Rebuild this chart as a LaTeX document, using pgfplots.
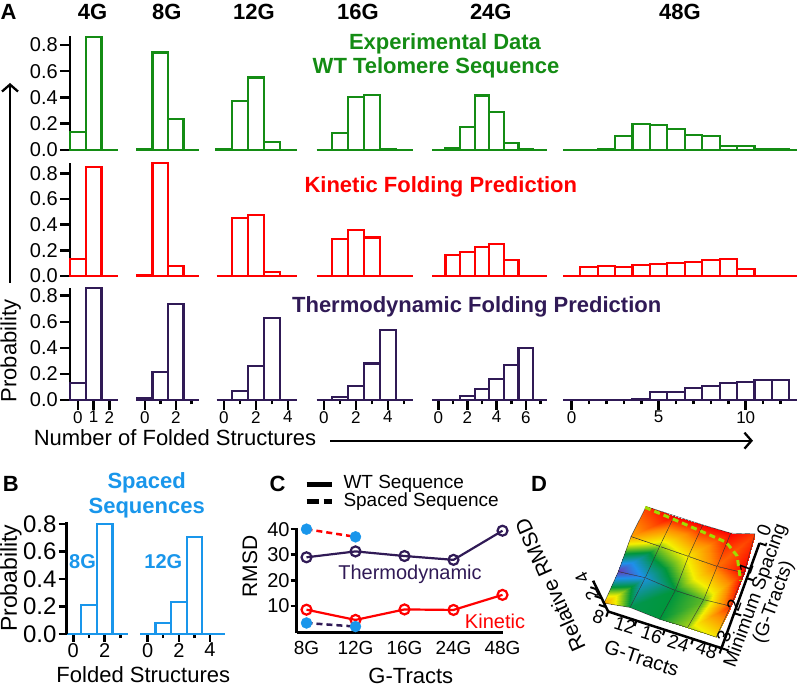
\documentclass[border=0pt]{standalone}
\usepackage{pgfplots}
\pgfplotsset{compat=1.18}
\usepackage{fontspec}
\setmainfont{Liberation Sans}
\usetikzlibrary{arrows.meta}
\definecolor{cg}{RGB}{20,140,20}
\definecolor{cr}{RGB}{255,0,0}
\definecolor{cp}{RGB}{48,26,86}
\definecolor{cb}{RGB}{25,150,235}
\definecolor{cy}{RGB}{160,220,0}
\newcommand\fs[1]{\fontsize{#1}{#1}\selectfont}
\pgfplotsset{
  hb/.style={scale only axis, clip=false, anchor=south west, ymin=0, ybar, bar width=1,
    axis x line*=bottom, xtick=\empty,
    x axis line style={line width=2.8pt,-}, tick align=outside,
    major tick length=10pt, minor tick length=4.5pt,
    tick style={black, line width=2.5pt},
    xticklabel style={font=\fs{17}, inner sep=1pt}},
  noy/.style={axis y line=none, ytick=\empty},
  yax/.style={axis y line*=left, y axis line style={black, line width=2.5pt,-},
    ytick={0,0.2,0.4,0.6,0.8}, yticklabels={0.0,0.2,0.4,0.6,0.8},
    yticklabel style={font=\fs{20}, inner sep=2pt}},
  c1/.style={xmin=-0.5, xmax=2.55, width=48pt, yax},
  c2/.style={xmin=-0.5, xmax=3.5, width=62pt, noy},
  c3/.style={xmin=-0.45, xmax=4.55, width=80pt, noy},
  c4/.style={xmin=-0.45, xmax=5.57, width=96.3pt, noy},
  c5/.style={xmin=-0.43, xmax=7.45, width=115pt, noy},
  c6/.style={xmin=-0.48, xmax=12.93, width=233.4pt, noy},
  r1/.style={ymax=0.87, height=114.2pt, x axis line style={draw=cg}},
  r2/.style={ymax=0.88, height=112.9pt, x axis line style={draw=cr}},
  r3/.style={ymax=0.86, height=112.1pt, x axis line style={draw=cp}},
  bg/.style={draw=cg, fill=white, line width=2.2pt},
  br/.style={draw=cr, fill=white, line width=2.2pt},
  bp/.style={draw=cp, fill=white, line width=2.2pt},
  bb/.style={draw=cb, fill=white, line width=2.2pt},
}
\begin{document}
\begin{tikzpicture}[x=1pt,y=1pt]
\useasboundingbox (0,0) rectangle (800,687);
% ---------------- Panel A, row 1: experimental
\begin{axis}[hb,c1,r1,at={(70pt,537pt)}]
\addplot[bg] coordinates {(0,0.137) (1,0.86)};
\end{axis}
\begin{axis}[hb,c2,r1,at={(137pt,537pt)}]
\addplot[bg] coordinates {(0,0.003) (1,0.743) (2,0.237)};
\end{axis}
\begin{axis}[hb,c3,r1,at={(216.7pt,537pt)}]
\addplot[bg] coordinates {(0,0.003) (1,0.374) (2,0.552) (3,0.063)};
\end{axis}
\begin{axis}[hb,c4,r1,at={(316.7pt,537pt)}]
\addplot[bg] coordinates {(1,0.127) (2,0.405) (3,0.42) (4,0.01)};
\end{axis}
\begin{axis}[hb,c5,r1,at={(432pt,537pt)}]
\addplot[bg] coordinates {(1,0.018) (2,0.178) (3,0.415) (4,0.288) (5,0.051) (6,0.005)};
\end{axis}
\begin{axis}[hb,c6,r1,at={(563.3pt,537pt)}]
\addplot[bg] coordinates {(2,0.005) (3,0.107) (4,0.198) (5,0.19) (6,0.158) (7,0.112) (8,0.107) (9,0.033) (10,0.033) (11,0.003) (12,0.003)};
\end{axis}
% ---------------- row 2: kinetic
\begin{axis}[hb,c1,r2,at={(70pt,411pt)}]
\addplot[br] coordinates {(0,0.13) (1,0.847)};
\end{axis}
\begin{axis}[hb,c2,r2,at={(137pt,411pt)}]
\addplot[br] coordinates {(0,0.01) (1,0.878) (2,0.078)};
\end{axis}
\begin{axis}[hb,c3,r2,at={(216.7pt,411pt)}]
\addplot[br] coordinates {(1,0.45) (2,0.473) (3,0.034)};
\end{axis}
\begin{axis}[hb,c4,r2,at={(316.7pt,411pt)}]
\addplot[br] coordinates {(1,0.288) (2,0.358) (3,0.30)};
\end{axis}
\begin{axis}[hb,c5,r2,at={(432pt,411pt)}]
\addplot[br] coordinates {(1,0.164) (2,0.19) (3,0.228) (4,0.25) (5,0.125)};
\end{axis}
\begin{axis}[hb,c6,r2,at={(563.3pt,411pt)}]
\addplot[br] coordinates {(1,0.068) (2,0.078) (3,0.073) (4,0.083) (5,0.091) (6,0.099) (7,0.109) (8,0.125) (9,0.132) (10,0.057)};
\end{axis}
% ---------------- row 3: thermodynamic
\begin{axis}[hb,c1,r3,at={(70pt,287pt)}, xtick={0,1,2}, xticklabels={0,1,2}]
\addplot[bp] coordinates {(0,0.128) (1,0.857)};
\end{axis}
\begin{axis}[hb,c2,r3,at={(137pt,287pt)}, xtick={0,2}, xticklabels={0,2}, minor xtick={1,3}]
\addplot[bp] coordinates {(0,0.015) (1,0.217) (2,0.734)};
\end{axis}
\begin{axis}[hb,c3,r3,at={(216.7pt,287pt)}, xtick={0,2,4}, xticklabels={0,2,4}, minor xtick={1,3}]
\addplot[bp] coordinates {(1,0.069) (2,0.26) (3,0.63)};
\end{axis}
\begin{axis}[hb,c4,r3,at={(316.7pt,287pt)}, xtick={0,2,4}, xticklabels={0,2,4}, minor xtick={1,3,5}]
\addplot[bp] coordinates {(1,0.025) (2,0.107) (3,0.28) (4,0.54)};
\end{axis}
\begin{axis}[hb,c5,r3,at={(432pt,287pt)}, xtick={0,2,4,6}, xticklabels={0,2,4,6}, minor xtick={1,3,5,7}]
\addplot[bp] coordinates {(2,0.03) (3,0.084) (4,0.164) (5,0.27) (6,0.40)};
\end{axis}
\begin{axis}[hb,c6,r3,at={(563.3pt,287pt)}, xtick={0,5,10}, xticklabels={0,5,10}, minor xtick={1,2,3,4,6,7,8,9,11,12}]
\addplot[bp] coordinates {(4,0.007) (5,0.059) (6,0.064) (7,0.09) (8,0.107) (9,0.128) (10,0.14) (11,0.153) (12,0.153)};
\end{axis}
% Panel A texts
\node[font=\bfseries\fs{22}, anchor=base] at (8.5,667) {A};
\foreach \x/\t in {92.5/4G,166.7/8G,254/12G,358/16G,490.8/24G,680/48G}
  \node[font=\bfseries\fs{22}, anchor=base] at (\x,667) {\t};
\node[font=\bfseries\fs{22}, text=cg, anchor=base] at (445,637.7) {Experimental Data};
\node[font=\bfseries\fs{22}, text=cg, anchor=base] at (436,613) {WT Telomere Sequence};
\node[font=\bfseries\fs{22}, text=cr, anchor=base] at (440.8,494.3) {Kinetic Folding Prediction};
\node[font=\bfseries\fs{22}, text=cp, anchor=base] at (476.7,374.7) {Thermodynamic Folding Prediction};
\draw[line width=2.3pt, -{Straight Barb[length=7pt,width=16pt,line width=2.3pt]}] (10,404) -- (10,604);
\node[font=\fs{22}, rotate=90, anchor=base] at (16.5,336) {Probability};
\node[font=\fs{22}, anchor=base] at (175,241.3) {Number of Folded Structures};
\draw[line width=2.3pt, -{Straight Barb[length=7pt,width=16pt,line width=2.3pt]}] (330,246.3) -- (753,246.3);
% ---------------- Panel B
\begin{axis}[hb,at={(66.7pt,53pt)}, xmin=-0.42, xmax=3.5, width=61.6pt, ymax=0.817, height=112.3pt,
  x axis line style={draw=cb}, yax, yticklabel style={font=\fs{24}}, major tick length=8pt,
  xtick={0,2}, xticklabels={0,2}, minor xtick={1,3}, xticklabel style={font=\fs{20}}]
\addplot[bb] coordinates {(1,0.21) (2,0.80)};
\end{axis}
\begin{axis}[hb,noy,at={(140pt,53pt)}, xmin=-0.49, xmax=4.96, width=85pt, ymax=0.817, height=112.3pt,
  x axis line style={draw=cb}, major tick length=8pt,
  xtick={0,2,4}, xticklabels={0,2,4}, minor xtick={1,3,5}, xticklabel style={font=\fs{20}}]
\addplot[bb] coordinates {(1,0.082) (2,0.235) (3,0.708)};
\end{axis}
\node[font=\bfseries\fs{22}, anchor=base] at (10.8,195.3) {B};
\node[font=\bfseries\fs{22}, text=cb, anchor=base] at (146.7,198.7) {Spaced};
\node[font=\bfseries\fs{22}, text=cb, anchor=base] at (146.7,173.7) {Sequences};
\node[font=\bfseries\fs{20}, text=cb] at (82.5,125.3) {8G};
\node[font=\bfseries\fs{20}, text=cb] at (163.3,125.3) {12G};
\node[font=\fs{23}, rotate=90, anchor=base] at (17,108.7) {Probability};
\node[font=\fs{22}, anchor=base, inner sep=0pt] at (143.3,4) {Folded Structures};
% ---------------- Panel C
\begin{axis}[scale only axis, clip=false, anchor=south west, at={(296.7pt,54.3pt)},
  xmin=-0.2, xmax=4.0, width=205.8pt, ymin=-0.5, ymax=40.5, height=104.8pt,
  axis x line*=bottom, axis y line*=left, axis line style={black, line width=2.5pt, -},
  tick align=outside, major tick length=6pt, tick style={black, line width=2.5pt},
  xtick={0,1,2,3,4}, xticklabels={8G,12G,16G,24G,48G}, xtick style={draw=none},
  ytick={10,20,30,40}, yticklabels={10,20,30,40},
  xticklabel style={font=\fs{19}, inner sep=2pt}, yticklabel style={font=\fs{20}, inner sep=1pt}]
\addplot[cr, line width=2.5pt, dash pattern=on 6pt off 4pt] coordinates {(0,40) (1,37)};
\addplot[cp, line width=2.5pt, dash pattern=on 6pt off 4pt] coordinates {(0,3.3) (1,1.9)};
\addplot[cp, line width=2.2pt, mark=o, mark size=5pt, mark options={fill=white, line width=2.2pt}] coordinates {(0,29) (1,31.3) (2,29.5) (3,28) (4,39.4)};
\addplot[cr, line width=2.2pt, mark=o, mark size=5pt, mark options={fill=white, line width=2.2pt}] coordinates {(0,8.5) (1,4.5) (2,8.6) (3,8.4) (4,14.3)};
\addplot[only marks, mark=*, mark size=5.5pt, mark options={fill=cb, draw=cb}] coordinates {(0,40) (1,37) (0,3.3) (1,1.9)};
\end{axis}
\node[font=\bfseries\fs{22}, anchor=base] at (277.5,195.3) {C};
\draw[line width=4.5pt] (306.7,202.7) -- (331.7,202.7);
\draw[line width=4.5pt, dash pattern=on 12pt off 5pt] (306.7,185.3) -- (331.7,185.3);
\node[font=\fs{19}, anchor=west, inner sep=0pt] at (343.3,203) {WT Sequence};
\node[font=\fs{19}, anchor=west, inner sep=0pt] at (343.3,185.3) {Spaced Sequence};
\node[font=\fs{20}, text=cp] at (410,113) {Thermodynamic};
\node[font=\fs{20}, text=cr] at (495,65.3) {Kinetic};
\node[font=\fs{21}, rotate=90, anchor=base] at (257,120.3) {RMSD};
\node[font=\fs{22}, inner sep=0pt] at (410.8,11) {G-Tracts};
% ---------------- Panel D
\begin{axis}[anchor=origin, at={(646.15pt,180.5pt)}, disabledatascaling, hide axis, clip=false,
  x={(28.33pt,-9.17pt)}, y={(-12.67pt,-35pt)}, z={(-4.3pt,8.8pt)},
  xmin=0, xmax=4, ymin=0, ymax=3, zmin=1.5, zmax=5,
  colormap={rb}{rgb255=(120,40,170) rgb255=(30,144,235) rgb255=(0,150,60) rgb255=(245,240,0) rgb255=(255,140,0) rgb255=(255,0,0)},
  point meta min=0, point meta max=5]
\addplot3[surf, shader=faceted interp, faceted color=black!80, line width=0.4pt, z buffer=sort, point meta=explicit]
 table[meta=c] {
x y z c
0 0 1.50 4.6
1 0 1.50 5
2 0 1.50 5
3 0 1.60 5
4 0 2.56 4.6

0 1 2.07 3.8
1 1 2.00 2.6
2 1 1.90 3.1
3 1 1.80 4.2
4 1 2.10 5

0 2 2.07 0.2
1 2 2.40 1.1
2 2 2.00 2.0
3 2 2.00 2.4
4 2 2.30 4.7

0 3 2.45 3.8
1 3 3.00 1.9
2 3 2.70 2.0
3 3 2.80 2.7
4 3 2.75 3.1
};
\addplot3[cy, line width=3pt, dash pattern=on 6pt off 4pt] coordinates {(0,0.05,1.6) (1,0.12,1.62) (2,0.2,1.64) (3,0.3,1.75) (3.55,0.6,1.98) (4,1.25,2.2)};
\draw[black, line width=2.5pt] (axis cs:0,3,1.5) -- (axis cs:4,3,1.5) -- (axis cs:4,0,1.5);
\draw[black, line width=2.5pt] (axis cs:0,3,1.5) -- (axis cs:0,3,5);
\pgfplotsinvokeforeach{0,1,2,3,4}{\draw[black, line width=2pt] (axis cs:#1,3,1.5) -- (axis cs:#1,3.15,1.5);}
\pgfplotsinvokeforeach{0,1,2,3}{\draw[black, line width=2pt] (axis cs:4,#1,1.5) -- (axis cs:4.25,#1,1.5);}
\pgfplotsinvokeforeach{2,3,4}{\draw[black, line width=2pt] (axis cs:0,3,#1) -- (axis cs:-0.25,3,#1);}
\end{axis}
\node[font=\bfseries\fs{22}, anchor=base] at (539,195.3) {D};
\foreach \x/\y/\t in {598.3/70.3/8,625/62/12,651.7/52/16,678.3/43.7/24,706.7/37/48}
  \node[font=\fs{19}, rotate=-18, inner sep=0pt] at (\x,\y) {\t};
\foreach \x/\y/\t in {724/50.3/3,734/82/2,746/118.7/1,764/157/0}
  \node[font=\fs{19}, rotate=70, inner sep=0pt] at (\x,\y) {\t};
\foreach \x/\y/\t in {592/92/2,582/108.7/4}
  \node[font=\fs{18}, rotate=116.6, inner sep=0pt] at (\x,\y) {\t};
\node[font=\fs{21}, rotate=114, inner sep=0pt] at (550,102) {Relative RMSD};
\node[font=\fs{20}, rotate=-18.4, inner sep=0pt] at (641.7,28.7) {G-Tracts};
\node[font=\fs{19}, rotate=70, align=center, inner sep=0pt] at (765,88) {Minimum Spacing\\(G-Tracts)};
\end{tikzpicture}
\end{document}
